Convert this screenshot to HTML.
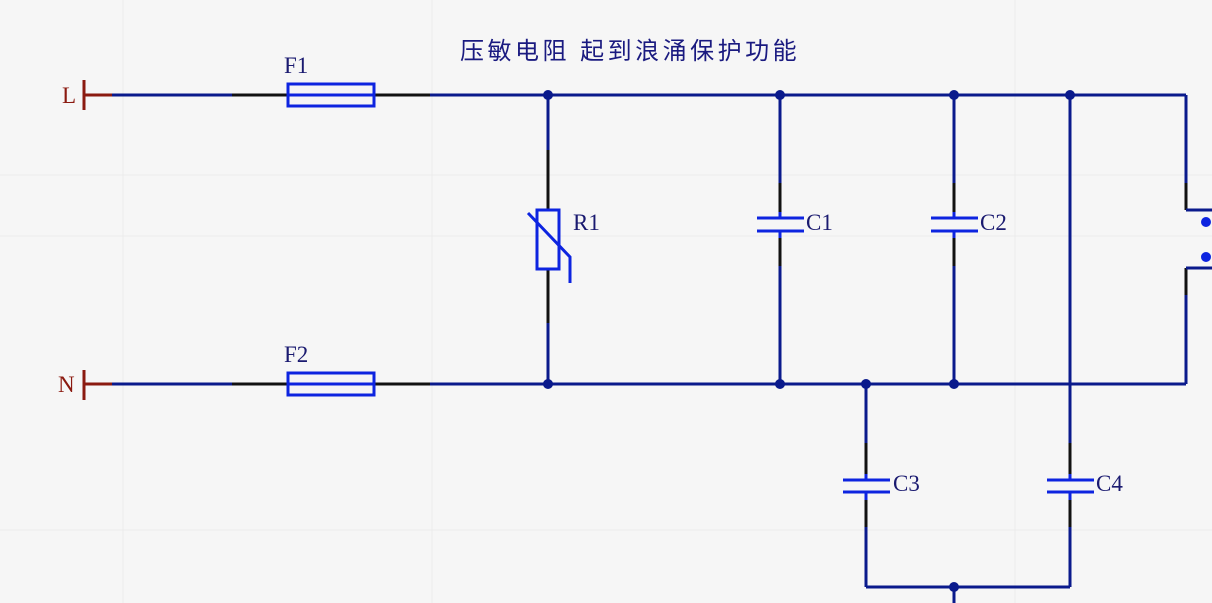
<!DOCTYPE html>
<html><head><meta charset="utf-8"><style>
html,body{margin:0;padding:0;background:#f6f6f6;}
svg{display:block}
</style></head><body>
<svg width="1212" height="603" viewBox="0 0 1212 603" xmlns="http://www.w3.org/2000/svg">
<rect width="1212" height="603" fill="#f6f6f6"/>
<g stroke="#ececec" stroke-width="1">
<line x1="0" y1="175" x2="1212" y2="175"/><line x1="0" y1="236" x2="1212" y2="236"/><line x1="0" y1="530" x2="1212" y2="530"/>
<line x1="123" y1="0" x2="123" y2="603"/><line x1="432" y1="0" x2="432" y2="603"/><line x1="1015" y1="0" x2="1015" y2="603"/>
</g>
<text x="460" y="59" font-family="'Liberation Sans','Noto Sans CJK SC',sans-serif" font-size="24" fill="#1a1a80" letter-spacing="3.5">压敏电阻 起到浪涌保护功能</text>
<g font-family="'Liberation Serif',serif" font-size="23" fill="#1a1a70">
<text x="284" y="73">F1</text><text x="284" y="362">F2</text>
<text x="573" y="230">R1</text><text x="806" y="230">C1</text><text x="980" y="230">C2</text>
<text x="893" y="491">C3</text><text x="1096" y="491">C4</text>
</g>
<g font-family="'Liberation Serif',serif" font-size="23" fill="#8b1a10">
<text x="62" y="103">L</text><text x="58" y="392">N</text>
</g>
<g stroke="#8b1a10" stroke-width="3">
<line x1="84" y1="80" x2="84" y2="110"/><line x1="84" y1="95" x2="112" y2="95"/>
<line x1="84" y1="370" x2="84" y2="400"/><line x1="84" y1="384" x2="112" y2="384"/>
</g>
<g stroke="#111" stroke-width="3" fill="none">
<line x1="232" y1="95" x2="288" y2="95"/><line x1="374" y1="95" x2="430" y2="95"/>
<line x1="232" y1="384" x2="288" y2="384"/><line x1="374" y1="384" x2="430" y2="384"/>
<line x1="548" y1="150" x2="548" y2="210"/><line x1="548" y1="269" x2="548" y2="323"/>
<line x1="780" y1="183" x2="780" y2="212"/><line x1="780" y1="238" x2="780" y2="266"/>
<line x1="954" y1="183" x2="954" y2="212"/><line x1="954" y1="238" x2="954" y2="266"/>
<line x1="866" y1="443" x2="866" y2="474"/><line x1="866" y1="500" x2="866" y2="527"/>
<line x1="1070" y1="443" x2="1070" y2="474"/><line x1="1070" y1="500" x2="1070" y2="527"/>
<line x1="1186" y1="183" x2="1186" y2="210"/><line x1="1186" y1="268" x2="1186" y2="295"/>
</g>
<g stroke="#0a1a8c" stroke-width="3" fill="none">
<line x1="112" y1="95" x2="232" y2="95"/><line x1="430" y1="95" x2="1186" y2="95"/>
<line x1="112" y1="384" x2="232" y2="384"/><line x1="430" y1="384" x2="1186" y2="384"/>
<line x1="548" y1="95" x2="548" y2="150"/><line x1="548" y1="323" x2="548" y2="384"/>
<line x1="780" y1="95" x2="780" y2="183"/><line x1="780" y1="266" x2="780" y2="384"/>
<line x1="954" y1="95" x2="954" y2="183"/><line x1="954" y1="266" x2="954" y2="384"/>
<line x1="1070" y1="95" x2="1070" y2="443"/><line x1="1070" y1="527" x2="1070" y2="587"/>
<line x1="866" y1="384" x2="866" y2="443"/><line x1="866" y1="527" x2="866" y2="587"/>
<line x1="866" y1="587" x2="1070" y2="587"/><line x1="954" y1="587" x2="954" y2="603"/>
<polyline points="1186,95 1186,183"/><polyline points="1186,210 1212,210"/>
<polyline points="1212,268 1186,268"/><polyline points="1186,295 1186,384"/>
</g>
<g stroke="#0d24e0" stroke-width="3" fill="none">
<rect x="288" y="84" width="86" height="22"/><line x1="288" y1="95" x2="374" y2="95"/>
<rect x="288" y="373" width="86" height="22"/><line x1="288" y1="384" x2="374" y2="384"/>
<rect x="537" y="210" width="22" height="59"/>
<polyline points="528,213 570,257 570,283"/>
<line x1="757" y1="218" x2="804" y2="218"/><line x1="757" y1="231" x2="804" y2="231"/>
<line x1="780" y1="212" x2="780" y2="218"/><line x1="780" y1="231" x2="780" y2="238"/>
<line x1="931" y1="218" x2="978" y2="218"/><line x1="931" y1="231" x2="978" y2="231"/>
<line x1="954" y1="212" x2="954" y2="218"/><line x1="954" y1="231" x2="954" y2="238"/>
<line x1="843" y1="480" x2="890" y2="480"/><line x1="843" y1="492" x2="890" y2="492"/>
<line x1="866" y1="474" x2="866" y2="480"/><line x1="866" y1="492" x2="866" y2="500"/>
<line x1="1047" y1="480" x2="1094" y2="480"/><line x1="1047" y1="492" x2="1094" y2="492"/>
<line x1="1070" y1="474" x2="1070" y2="480"/><line x1="1070" y1="492" x2="1070" y2="500"/>
</g>
<g fill="#0a1a8c">
<circle cx="548" cy="95" r="5"/><circle cx="780" cy="95" r="5"/><circle cx="954" cy="95" r="5"/><circle cx="1070" cy="95" r="5"/>
<circle cx="548" cy="384" r="5"/><circle cx="780" cy="384" r="5"/><circle cx="866" cy="384" r="5"/><circle cx="954" cy="384" r="5"/>
<circle cx="954" cy="587" r="5"/>
</g>
<g fill="#0d24e0"><circle cx="1206" cy="222" r="5"/><circle cx="1206" cy="257" r="5"/></g>
</svg>
</body></html>
